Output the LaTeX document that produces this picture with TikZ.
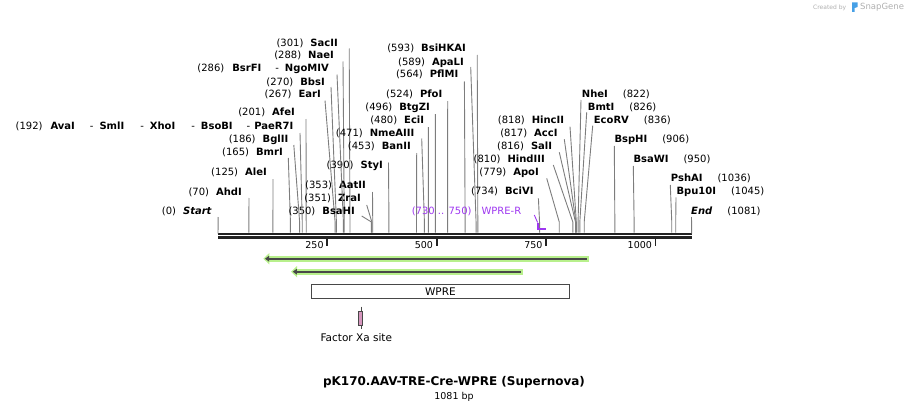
\documentclass[tikz,border=0pt]{standalone}
\usepackage{fontspec}
\setmainfont{DejaVu Sans}
\usetikzlibrary{arrows.meta}

\definecolor{primerc}{RGB}{158,55,240}
\definecolor{glowc}{RGB}{184,240,140}
\definecolor{featc}{RGB}{72,72,72}
\definecolor{cutc}{RGB}{125,125,125}
\definecolor{xapink}{RGB}{214,150,190}
\definecolor{credc}{RGB}{175,175,175}
\definecolor{sgblue}{RGB}{70,160,230}

\tikzset{
  sitelbl/.style={inner sep=0pt, text height=7.3pt, text depth=0pt, font=\fontsize{10}{12}\selectfont},
  ticklbl/.style={inner sep=0pt, text height=6.9pt, text depth=0pt, font=\fontsize{9.5}{11}\selectfont},
  cutline/.style={draw=cutc, line width=0.9pt},
  bbline/.style={draw={rgb,255:red,34;green,34;blue,34}},
  glowarrow/.style={draw=glowc, line width=6pt, -{Triangle[length=6pt,width=11pt]}},
  featarrow/.style={draw=featc, line width=2.2pt, -{Triangle[length=4pt,width=5.5pt]}},
  featbox/.style={draw=featc, line width=0.8pt, fill=white, minimum width=258.7pt, minimum height=14pt, inner sep=0pt, font=\fontsize{10.5}{12}\selectfont}
}

\begin{document}
\begin{tikzpicture}[x=1pt, y=-1pt]
\useasboundingbox (0,0) rectangle (910,412);

% backbone
\coordinate (bb-s) at (218,233.7);
\coordinate (bb-e) at (691.7,233.7);
\coordinate (bb2-s) at (218,237.7);
\coordinate (bb2-e) at (691.7,237.7);
\draw[bbline, line width=2pt] (bb-s) -- (bb-e);
\draw[bbline, line width=2.7pt] (bb2-s) -- (bb2-e);

% ticks
\foreach \t in {250,500,750,1000} {
  \coordinate (tk\t) at ({217.7+0.4378*\t},239);
  \coordinate (tkb\t) at ({217.7+0.4378*\t},246);
  \draw[bbline, line width=1.8pt] (tk\t) -- (tkb\t);
  \node[ticklbl, anchor=east] (tl\t) at ({214.3+0.4378*\t},245) {\t};
}

% sites, label on the left
\foreach \nm/\rx/\ly/\tx/\ty/\bp in {
  AhdI/242/191.5/249/198/70, AleI/267/172/273/179/125,
  BmrI/283/152/288.3/158/165, BglII/288.5/139/293.8/145/186,
  AfeI/295/112/306/119/201, EarI/321/94/325/100.5/267,
  BbsI/325/81.5/331/87/270, NaeI/334/55/343/61.5/288,
  SacII/338/42.5/349.2/48.5/301, AatII/366/185/372.5/192/353,
  ZraI/361/198.3/366.7/205/351, BsaHI/355/211/361.7/216/350,
  StyI/383/165/388.5/162.5/390, BanII/411/145.5/416.7/153/453,
  NmeAIII/414.5/133/421.7/138.5/471, EciI/424.3/120/428.3/127/480,
  BtgZI/430/107/435.3/114/496, PfoI/442.5/94/447.7/101/524,
  PflMI/458.5/74.3/464.4/81.5/564, ApaLI/464/61.5/470.7/67/589,
  BsiHKAI/466/48/477.2/55/593, BciVI/533.7/191/538.4/198.3/734,
  ApoI/539/171.7/546.7/178.3/779, HindIII/545/159/553.3/165/810,
  SalI/552.3/145.7/559.3/152.3/816, AccI/557.7/132.7/564.3/139.3/817,
  HincII/564.3/120/570/126.7/818} {
  \node[sitelbl, anchor=east] (\nm) at (\rx,\ly) {(\bp)\hspace{7pt}\textbf{\nm}};
  \coordinate (\nm-top) at (\tx,\ty);
  \coordinate (\nm-knee) at ({218.2+0.4378*\bp},222);
  \coordinate (\nm-cut) at ({218.2+0.4378*\bp},232.7);
  \draw[cutline] (\nm-top) -- (\nm-knee) -- (\nm-cut);
}

% sites, label on the right
\foreach \nm/\lx/\ly/\tx/\ty/\bp in {
  NheI/581.7/94.3/581/100/822, BmtI/587.7/106.7/586.7/112.3/826,
  EcoRV/593.7/120/592.7/125.7/836, BspHI/614.3/139.3/614.3/146/906,
  BsaWI/633.3/159.3/633.3/166/950, PshAI/670.7/178.3/670.3/185/1036,
  Bpu10I/676.3/191/676/197.3/1045} {
  \node[sitelbl, anchor=west] (\nm) at (\lx,\ly) {\textbf{\nm}\hspace{15pt}(\bp)};
  \coordinate (\nm-top) at (\tx,\ty);
  \coordinate (\nm-knee) at ({218.2+0.4378*\bp},222);
  \coordinate (\nm-cut) at ({218.2+0.4378*\bp},232.7);
  \draw[cutline] (\nm-top) -- (\nm-knee) -- (\nm-cut);
}

% multi-name sites and the ends
\node[sitelbl, anchor=east] (AvaI) at (293.5,126) {(192)\hspace{8pt}\textbf{AvaI}\hspace{15pt}-\hspace{6pt}\textbf{SmlI}\hspace{16pt}-\hspace{6pt}\textbf{XhoI}\hspace{16pt}-\hspace{6pt}\textbf{BsoBI}\hspace{14pt}-\hspace{4pt}\textbf{PaeR7I}};
\coordinate (AvaI-top) at (300,133);
\coordinate (AvaI-knee) at ({218.2+0.4378*192},222);
\coordinate (AvaI-cut) at ({218.2+0.4378*192},232.7);
\draw[cutline] (AvaI-top) -- (AvaI-knee) -- (AvaI-cut);

\node[sitelbl, anchor=east] (BsrFI) at (329,68.3) {(286)\hspace{8pt}\textbf{BsrFI}\hspace{14pt}-\hspace{6pt}\textbf{NgoMIV}};
\coordinate (BsrFI-top) at (337,74.5);
\coordinate (BsrFI-knee) at ({218.2+0.4378*286},222);
\coordinate (BsrFI-cut) at ({218.2+0.4378*286},232.7);
\draw[cutline] (BsrFI-top) -- (BsrFI-knee) -- (BsrFI-cut);

\node[sitelbl, anchor=east] (Start) at (212,211) {(0)\hspace{7pt}\textbf{\textit{Start}}};
\coordinate (Start-top) at (218.2,217);
\draw[cutline] (Start-top) -- (bb-s);

\node[sitelbl, anchor=west] (End) at (691,211) {\textbf{\textit{End}}\hspace{15pt}(1081)};
\coordinate (End-top) at (691.5,217);
\draw[cutline] (End-top) -- (bb-e);

% primer
\node[sitelbl, anchor=east, text=primerc] (WPRE-R) at (521.5,211) {(730 .. 750)\hspace{10pt}WPRE-R};
\coordinate (pr-top) at (534.3,215);
\coordinate (pr-knee) at (537.6,222.5);
\coordinate (pr-s) at (537.6,229.3);
\coordinate (pr-e) at (546.2,229.3);
\draw[primerc, line width=0.9pt] (pr-top) -- (pr-knee);
\draw[primerc, line width=1.8pt] (pr-knee) -- (pr-s) -- (pr-e);

% features
\coordinate (f1-e) at (589,258.7);
\coordinate (f1-s) at (263.3,258.7);
\coordinate (f1d-e) at (586.7,258.7);
\coordinate (f1d-s) at (265,258.7);
\draw[glowarrow] (f1-e) -- (f1-s);
\draw[featarrow] (f1d-e) -- (f1d-s);

\coordinate (f2-e) at (522.7,271.7);
\coordinate (f2-s) at (291,271.7);
\coordinate (f2d-e) at (520.7,271.7);
\coordinate (f2d-s) at (292.8,271.7);
\draw[glowarrow] (f2-e) -- (f2-s);
\draw[featarrow] (f2d-e) -- (f2d-s);

\node[featbox] (WPRE) at (440.4,291.3) {WPRE};

% Factor Xa site
\coordinate (xa-t) at (361.3,306.7);
\coordinate (xa-b) at (361.3,329.3);
\draw[featc, line width=0.9pt] (xa-t) -- (xa-b);
\draw[featc, line width=0.7pt, fill=xapink] (358.3,311) rectangle (362.3,325.7);
\node[sitelbl, font=\fontsize{10.5}{12}\selectfont] (xa) at (356.3,338.3) {Factor Xa site};

% title
\node[inner sep=0pt, font=\fontsize{12}{14}\bfseries\selectfont] (title) at (454,382.5) {pK170.AAV-TRE-Cre-WPRE (Supernova)};
\node[inner sep=0pt, font=\fontsize{9.5}{11}\selectfont] (bp) at (454,396.5) {1081 bp};

% credit
\node[inner sep=0pt, anchor=west, text=credc, font=\fontsize{6}{7}\selectfont] (cred) at (813,7.5) {Created by};
\fill[sgblue] (852,2.5) -- (857.5,2.5) -- (857.5,7) -- (854.5,8) -- (854.5,12) -- (852,12) -- cycle;
\node[inner sep=0pt, anchor=west, text=credc, font=\fontsize{8.5}{10}\selectfont] (sg) at (860,7.5) {SnapGene};
\end{tikzpicture}
\end{document}
